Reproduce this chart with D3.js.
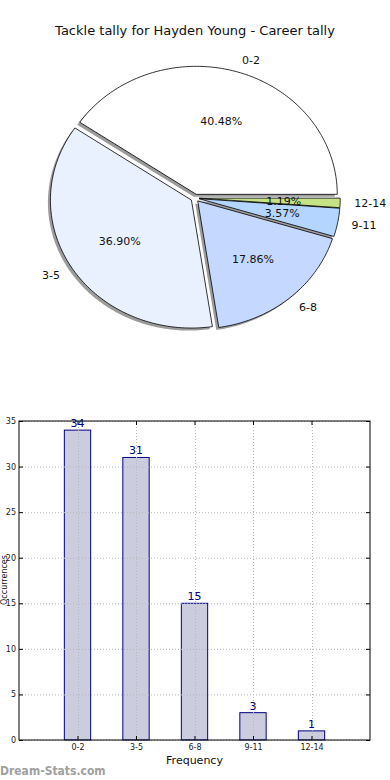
<!DOCTYPE html>
<html>
<head>
<meta charset="utf-8">
<script src="https://cdn.jsdelivr.net/npm/d3@7"></script>
<style>
  body { margin: 0; background: #fff; }
  svg { display: block; font-family: "DejaVu Sans", sans-serif; }
</style>
</head>
<body>
<svg width="390" height="780"></svg>
<script>

const categories = ["0-2", "3-5", "6-8", "9-11", "12-14"]
const counts = [34, 31, 15, 3, 1]
const pieColors = ["#ffffff", "#eaf1fe", "#c5d8ff", "#b3d5ff", "#c5e384"]
const yTicks = [0, 5, 10, 15, 20, 25, 30, 35]

const svg = d3.select("svg")

svg.append("text")
  .attr("x", 195)
  .attr("y", 35)
  .attr("text-anchor", "middle")
  .style("font-size", "13px")
  .style("fill", "#111")
  .text("Tackle tally for Hayden Young - Career tally")

// pie, matplotlib style: starts at 3 o'clock, goes counter-clockwise, stretched into an ellipse
const cx = 195, cy = 198
const rx = 141, ry = 128
const explode = 0.03
const total = d3.sum(counts)

const angle = d3.scaleLinear().domain([0, total]).range([0, 2 * Math.PI])
const cum = d3.cumsum(counts)
const slices = categories.map((c, i) => ({
  label: c,
  value: counts[i],
  color: pieColors[i],
  a0: angle(cum[i] - counts[i]),
  a1: angle(cum[i])
}))

function wedgePath(s, ox, oy) {
  const pts = [[ox, oy]]
  const n = Math.max(4, Math.ceil((s.a1 - s.a0) / 0.02))
  for (let k = 0; k <= n; k++) {
    const a = s.a0 + (s.a1 - s.a0) * k / n
    pts.push([ox + rx * Math.cos(a), oy - ry * Math.sin(a)])
  }
  return d3.line()(pts) + "Z"
}

const pieG = svg.append("g")

slices.forEach(s => {
  const mid = (s.a0 + s.a1) / 2
  s.ox = cx + explode * rx * Math.cos(mid)
  s.oy = cy - explode * ry * Math.sin(mid)
  s.mid = mid
})

// shadows first
pieG.selectAll("path.shadow")
  .data(slices)
  .enter()
  .append("path")
  .attr("class", "shadow")
  .attr("d", s => wedgePath(s, s.ox - 2.5, s.oy + 2.5))
  .attr("fill", "#7a7a7a")
  .attr("opacity", 0.75)

pieG.selectAll("path.wedge")
  .data(slices)
  .enter()
  .append("path")
  .attr("class", "wedge")
  .attr("d", s => wedgePath(s, s.ox, s.oy))
  .attr("fill", s => s.color)
  .attr("stroke", "#000")
  .attr("stroke-width", 0.8)
  .attr("stroke-linejoin", "round")

pieG.selectAll("text.lbl")
  .data(slices)
  .enter()
  .append("text")
  .attr("class", "lbl")
  .attr("x", s => s.ox + 1.1 * rx * Math.cos(s.mid))
  .attr("y", s => s.oy - 1.1 * ry * Math.sin(s.mid))
  .attr("dy", "0.35em")
  .attr("text-anchor", s => Math.cos(s.mid) > 0 ? "start" : "end")
  .style("font-size", "11px")
  .style("fill", "#111")
  .text(s => s.label)

pieG.selectAll("text.pct")
  .data(slices)
  .enter()
  .append("text")
  .attr("class", "pct")
  .attr("x", s => s.ox + 0.6 * rx * Math.cos(s.mid))
  .attr("y", s => s.oy - 0.6 * ry * Math.sin(s.mid))
  .attr("dy", "0.35em")
  .attr("text-anchor", "middle")
  .style("font-size", "11px")
  .style("fill", "#111")
  .text(s => (s.value / total * 100).toFixed(2) + "%")

// bar chart
const margin = {top: 421, bottom: 40, left: 19, right: 20}
const bx0 = margin.left, bx1 = 370
const by0 = 740, by1 = margin.top

const scaleX = d3.scaleLinear().domain([-1, 5]).range([bx0, bx1])
const scaleY = d3.scaleLinear().domain([0, 35]).range([by0, by1])
const barW = 0.45

const barG = svg.append("g")

barG.selectAll("rect.bar")
  .data(counts)
  .enter()
  .append("rect")
  .attr("class", "bar")
  .attr("x", (d, i) => scaleX(i - barW / 2))
  .attr("y", d => scaleY(d))
  .attr("width", scaleX(barW) - scaleX(0))
  .attr("height", d => scaleY(0) - scaleY(d))
  .attr("fill", "#ccccdf")
  .attr("stroke", "#000080")
  .attr("stroke-width", 1)

// dotted grid over the bars
barG.selectAll("line.hgrid")
  .data(yTicks)
  .enter()
  .append("line")
  .attr("x1", bx0).attr("x2", bx1)
  .attr("y1", d => scaleY(d) + 0.5).attr("y2", d => scaleY(d) + 0.5)
  .attr("stroke", "#b8b8b8")
  .attr("stroke-dasharray", "1,2")

barG.selectAll("line.vgrid")
  .data(categories)
  .enter()
  .append("line")
  .attr("x1", (d, i) => Math.round(scaleX(i)) + 0.5).attr("x2", (d, i) => Math.round(scaleX(i)) + 0.5)
  .attr("y1", by1).attr("y2", by0)
  .attr("stroke", "#b8b8b8")
  .attr("stroke-dasharray", "1,2")

const yAxis = d3.axisLeft(scaleY).tickValues(yTicks).tickSize(-4).tickPadding(3)
const yAxisR = d3.axisRight(scaleY).tickValues(yTicks).tickSize(-4).tickFormat("")
const xAxis = d3.axisBottom(scaleX).tickValues(d3.range(categories.length))
  .tickFormat(i => categories[i]).tickSize(-4).tickPadding(4)
const xAxisT = d3.axisTop(scaleX).tickValues(d3.range(categories.length)).tickSize(-4).tickFormat("")

barG.append("g").attr("transform", `translate(${bx0},0)`).call(yAxis)
barG.append("g").attr("transform", `translate(${bx1},0)`).call(yAxisR)
barG.append("g").attr("transform", `translate(0,${by0})`).call(xAxis)
barG.append("g").attr("transform", `translate(0,${by1})`).call(xAxisT)

barG.selectAll(".domain").remove()
barG.selectAll(".tick text").style("font-size", "8px").style("fill", "#222").style("font-family", "DejaVu Sans, sans-serif")
barG.selectAll(".tick line").attr("stroke", "#000")

barG.append("rect")
  .attr("x", bx0).attr("y", by1)
  .attr("width", bx1 - bx0).attr("height", by0 - by1)
  .attr("fill", "none")
  .attr("stroke", "#000")
  .attr("stroke-width", 1)

barG.selectAll("text.val")
  .data(counts)
  .enter()
  .append("text")
  .attr("class", "val")
  .attr("x", (d, i) => scaleX(i))
  .attr("y", d => scaleY(d) - 3)
  .attr("text-anchor", "middle")
  .style("font-size", "11px")
  .style("fill", "#000080")
  .text(d => d)

svg.append("text")
  .attr("x", (bx0 + bx1) / 2)
  .attr("y", 764)
  .attr("text-anchor", "middle")
  .style("font-size", "11px")
  .style("fill", "#111")
  .text("Frequency")

// y label sits at the very edge, shrunk so it stays inside the page
svg.append("text")
  .attr("transform", "translate(6.5,580) rotate(-90)")
  .attr("text-anchor", "middle")
  .style("font-size", "8px")
  .style("fill", "#111")
  .text("Occurrences")

svg.append("text")
  .attr("x", 0)
  .attr("y", 775)
  .style("font-family", "'DejaVu Sans Condensed', 'DejaVu Sans', sans-serif")
  .style("font-size", "12px")
  .style("font-weight", "bold")
  .style("fill", "#a0a0a0")
  .text("Dream-Stats.com")

</script>
</body>
</html>
